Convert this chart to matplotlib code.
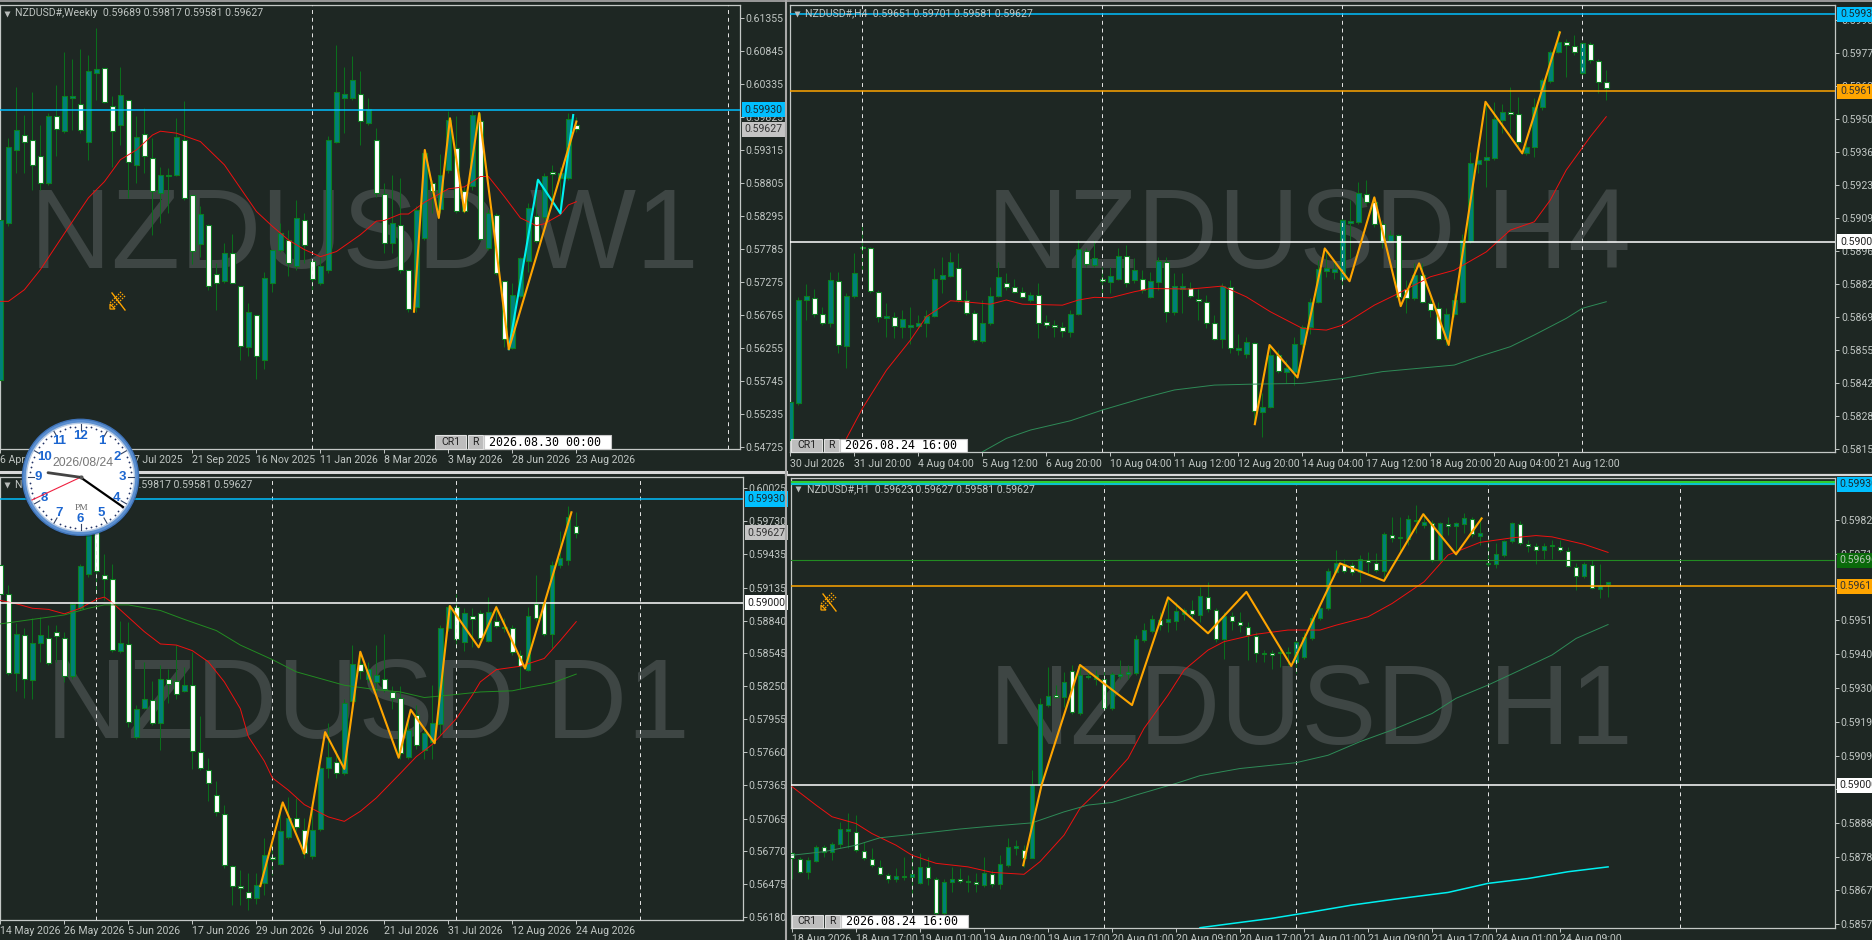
# NZDUSD four panel terminal screenshot, W1 / H4 / D1 / H1
import numpy as np
import matplotlib
matplotlib.use("Agg")
import matplotlib.pyplot as plt
from matplotlib.patches import Circle, Polygon, Rectangle

W, H = 1872, 940
BG = "#1e2723"
AXC = "#c4c8c6"
TXT = "#c0c6c3"
WICK = "#0a6e1c"
EDGE = "#0b8020"
UPC = "#00807a"
DNC = "#ffffff"
ORANGE = "#ffa500"
RED = "#f01010"
CYAN = "#00f0f0"
SKY = "#00bfff"
WMARK = "#3e4644"
FS = 7.6

plt.rcParams["font.family"] = ["Liberation Sans Narrow", "Roboto", "DejaVu Sans"]

# (open, high, low, close)
w1_ohlc = [
    (.5576,.5841,.5488,.5823),(.5818,.5949,.5813,.5936),(.5931,.6028,.5895,.5962),(.5954,.5985,.5895,.5944),
    (.5946,.6021,.5869,.5908),(.5921,.5970,.5869,.5880),(.5880,.5988,.5877,.5984),(.5984,.6032,.5921,.5963),
    (.5960,.6082,.5957,.6014),(.6012,.6071,.5962,.6015),(.6002,.6087,.5957,.5962),(.5944,.6078,.5916,.6053),
    (.6050,.6119,.6008,.6056),(.6057,.6058,.6003,.6005),(.5999,.6014,.5905,.5961),(.5969,.6059,.5939,.6016),
    (.6008,.6009,.5857,.5912),(.5907,.5983,.5880,.5951),(.5955,.5996,.5895,.5922),(.5919,.5949,.5800,.5868),
    (.5864,.5905,.5818,.5892),(.5891,.5903,.5833,.5892),(.5892,.5980,.5890,.5951),(.5947,.6007,.5854,.5856),
    (.5861,.5862,.5754,.5775),(.5785,.5844,.5766,.5832),(.5815,.5817,.5715,.5721),(.5740,.5756,.5684,.5726),
    (.5729,.5787,.5725,.5772),(.5771,.5801,.5725,.5726),(.5720,.5721,.5606,.5628),(.5627,.5694,.5613,.5680),
    (.5676,.5676,.5577,.5613),(.5606,.5743,.5592,.5733),(.5725,.5777,.5712,.5776),(.5777,.5818,.5774,.5802),
    (.5792,.5808,.5736,.5757),(.5751,.5853,.5746,.5826),(.5823,.5833,.5756,.5784),(.5760,.5761,.5711,.5731),
    (.5725,.5766,.5723,.5752),(.5746,.5952,.5741,.5946),(.5944,.6093,.5941,.6020),(.6011,.6060,.5957,.6017),
    (.6011,.6076,.6008,.6039),(.6017,.6053,.5938,.5975),(.5973,.6012,.5970,.5994),(.5947,.5965,.5859,.5865),
    (.5863,.5880,.5772,.5787),(.5787,.5893,.5772,.5818),(.5815,.5887,.5741,.5746),(.5746,.5746,.5681,.5685),
    (.5688,.5844,.5681,.5838),(.5795,.5931,.5792,.5926),(.5880,.5885,.5833,.5867),(.5839,.5925,.5833,.5892),
    (.5900,.5991,.5895,.5978),(.5934,.5983,.5833,.5837),(.5867,.5875,.5833,.5837),(.5875,.5993,.5869,.5985),
    (.5976,.5988,.5792,.5794),(.5779,.5839,.5777,.5833),(.5831,.5833,.5738,.5741),(.5729,.5729,.5627,.5639),
    (.5625,.5725,.5623,.5707),(.5705,.5766,.5702,.5764),(.5759,.5849,.5743,.5841),(.5829,.5885,.5787,.5790),
    (.5828,.5895,.5823,.5890),(.5897,.5908,.5854,.5894),(.5888,.5905,.5833,.5895),(.5887,.5988,.5885,.5979),
    (.59689,.59817,.59581,.59627),
]
d1_ohlc = [
    (.5934,.5941,.5907,.5908),(.5908,.5916,.5835,.5837),(.5837,.5882,.5821,.5872),(.5871,.5877,.5815,.5832),
    (.5831,.5886,.5814,.5864),(.5864,.5887,.5847,.5871),(.5868,.5880,.5844,.5846),(.5874,.5880,.5847,.5870),
    (.5868,.5874,.5829,.5834),(.5834,.5901,.5832,.5899),(.5895,.5935,.5893,.5933),(.5926,.5981,.5923,.5978),
    (.5964,.5981,.5908,.5928),(.5925,.5944,.5902,.5921),(.5921,.5935,.5856,.5858),(.5857,.5884,.5855,.5864),
    (.5863,.5883,.5789,.5793),(.5780,.5808,.5778,.5805),(.5806,.5847,.5805,.5814),(.5813,.5830,.5790,.5792),
    (.5792,.5844,.5768,.5832),(.5832,.5841,.5810,.5827),(.5830,.5862,.5814,.5818),(.5821,.5842,.5820,.5826),
    (.5826,.5856,.5751,.5767),(.5766,.5798,.5750,.5752),(.5750,.5761,.5722,.5738),(.5728,.5740,.5709,.5712),
    (.5711,.5719,.5662,.5665),(.5664,.5665,.5629,.5646),(.5646,.5660,.5629,.5644),(.5641,.5658,.5625,.5635),
    (.5635,.5658,.5630,.5647),(.5649,.5689,.5638,.5674),(.5672,.5684,.5656,.5670),(.5666,.5720,.5665,.5695),
    (.5690,.5726,.5688,.5707),(.5707,.5725,.5695,.5699),(.5696,.5707,.5671,.5676),(.5673,.5722,.5670,.5696),
    (.5697,.5754,.5695,.5752),(.5752,.5792,.5743,.5762),(.5757,.5768,.5743,.5747),(.5747,.5814,.5746,.5810),
    (.5812,.5862,.5811,.5845),(.5845,.5855,.5832,.5839),(.5832,.5847,.5829,.5841),(.5829,.5862,.5820,.5835),
    (.5832,.5872,.5820,.5823),(.5820,.5825,.5805,.5815),(.5815,.5825,.5760,.5765),(.5762,.5798,.5760,.5786),
    (.5799,.5808,.5769,.5772),(.5768,.5787,.5760,.5783),(.5775,.5826,.5760,.5792),(.5791,.5880,.5781,.5877),
    (.5877,.5898,.5875,.5896),(.5896,.5908,.5859,.5867),(.5865,.5895,.5857,.5891),(.5888,.5895,.5860,.5885),
    (.5891,.5893,.5862,.5868),(.5866,.5905,.5865,.5892),(.5884,.5898,.5877,.5879),(.5877,.5886,.5874,.5878),
    (.5877,.5880,.5853,.5856),(.5853,.5858,.5823,.5843),(.5840,.5896,.5839,.5888),(.5899,.5925,.5884,.5886),
    (.5900,.5901,.5870,.5872),(.5872,.5937,.5859,.5934),(.5934,.5964,.5931,.5940),(.5938,.5987,.5934,.5977),
    (.59689,.59817,.59581,.59627),
]
h4_ohlc = [
    (.58188,.58447,.58161,.58345),(.58338,.58774,.58331,.58763),(.58763,.58825,.58679,.58777),(.58770,.58808,.58693,.58703),
    (.58702,.58733,.58658,.58665),(.58665,.58877,.58652,.58842),(.58840,.58877,.58543,.58577),(.58574,.58788,.58481,.58777),
    (.58777,.58952,.58768,.58870),(.58972,.59074,.58883,.58979),(.58972,.58979,.58788,.58798),(.58795,.58802,.58672,.58693),
    (.58686,.58747,.58611,.58695),(.58693,.58713,.58604,.58654),(.58649,.58720,.58604,.58683),(.58649,.58733,.58583,.58658),
    (.58654,.58699,.58645,.58669),(.58668,.58720,.58611,.58695),(.58695,.58890,.58693,.58849),(.58845,.58938,.58788,.58863),
    (.58859,.58958,.58856,.58915),(.58890,.58952,.58754,.58761),(.58761,.58802,.58699,.58706),(.58706,.58720,.58590,.58597),
    (.58594,.58761,.58586,.58669),(.58668,.58815,.58658,.58777),(.58777,.58918,.58774,.58856),(.58832,.58870,.58802,.58815),
    (.58815,.58849,.58788,.58795),(.58793,.58815,.58768,.58774),(.58763,.58795,.58754,.58781),(.58781,.58829,.58604,.58668),
    (.58672,.58699,.58645,.58658),(.58658,.58679,.58611,.58652),(.58652,.58672,.58611,.58634),(.58631,.58720,.58611,.58702),
    (.58702,.59006,.58699,.58968),(.58963,.58972,.58897,.58908),(.58904,.59006,.58897,.58931),(.58845,.58897,.58774,.58838),
    (.58836,.58897,.58788,.58859),(.58849,.58972,.58842,.58942),(.58941,.58986,.58815,.58829),(.58842,.58931,.58829,.58883),
    (.58847,.58883,.58788,.58802),(.58774,.58877,.58768,.58840),(.58836,.58938,.58802,.58920),(.58918,.58938,.58672,.58713),
    (.58710,.58870,.58699,.58818),(.58808,.58870,.58706,.58818),(.58812,.58836,.58768,.58777),(.58765,.58808,.58679,.58757),
    (.58754,.58781,.58645,.58669),(.58668,.58699,.58597,.58600),(.58600,.58829,.58563,.58818),(.58815,.58842,.58543,.58563),
    (.58556,.58624,.58536,.58566),(.58540,.58611,.58522,.58588),(.58586,.58590,.58256,.58308),(.58304,.58379,.58202,.58324),
    (.58324,.58570,.58318,.58536),(.58536,.58556,.58461,.58472),(.58468,.58515,.58420,.58481),(.58468,.58611,.58413,.58583),
    (.58583,.58658,.58570,.58652),(.58649,.58768,.58624,.58754),(.58754,.58924,.58747,.58886),(.58881,.58965,.58856,.58890),
    (.58877,.58924,.58849,.58886),(.58849,.59095,.58815,.59088),(.59077,.59170,.58931,.59084),(.59081,.59245,.59074,.59197),
    (.59193,.59254,.59149,.59163),(.59163,.59183,.59061,.59072),(.59070,.59088,.58972,.59003),(.59003,.59047,.58999,.59027),
    (.59027,.59033,.58761,.58774),(.58808,.58842,.58706,.58770),(.58768,.58911,.58761,.58863),(.58863,.58911,.58747,.58751),
    (.58747,.58788,.58693,.58720),(.58727,.58754,.58597,.58600),(.58600,.58727,.58577,.58702),(.58702,.58788,.58693,.58761),
    (.58754,.59033,.58747,.59006),(.59003,.59368,.58993,.59320),(.59317,.59395,.59279,.59333),(.59333,.59565,.59224,.59347),
    (.59344,.59572,.59333,.59500),(.59497,.59565,.59443,.59531),(.59531,.59633,.59443,.59524),(.59522,.59593,.59388,.59408),
    (.59361,.59415,.59354,.59388),(.59388,.59586,.59347,.59549),(.59549,.59668,.59538,.59661),(.59658,.59783,.59647,.59777),
    (.59777,.59865,.59770,.59818),(.59818,.59827,.59674,.59804),(.59800,.59845,.59763,.59777),(.59688,.59818,.59674,.59811),
    (.59808,.59818,.59729,.59743),(.59740,.59749,.59606,.59654),(.59651,.59701,.59581,.59627),
]
h1_ohlc = [
    (.58790,.58795,.58712,.58774),(.58772,.58779,.58728,.58733),(.58733,.58779,.58712,.58769),(.58766,.58815,.58764,.58810),
    (.58808,.58815,.58779,.58795),(.58795,.58826,.58769,.58820),(.58818,.58887,.58805,.58864),(.58860,.58913,.58805,.58864),
    (.58857,.58908,.58795,.58800),(.58798,.58826,.58769,.58774),(.58772,.58805,.58748,.58753),(.58748,.58769,.58723,.58726),
    (.58723,.58728,.58697,.58710),(.58710,.58743,.58702,.58720),(.58717,.58779,.58707,.58720),(.58717,.58784,.58661,.58725),
    (.58699,.58790,.58694,.58748),(.58748,.58779,.58692,.58714),(.58712,.58717,.58599,.58604),(.58604,.58712,.58599,.58700),
    (.58700,.58748,.58671,.58712),(.58711,.58743,.58697,.58705),(.58705,.58723,.58671,.58702),(.58702,.58728,.58671,.58694),
    (.58692,.58779,.58686,.58728),(.58727,.58738,.58686,.58694),(.58694,.58784,.58681,.58757),(.58753,.58836,.58748,.58810),
    (.58805,.58831,.58784,.58812),(.58800,.58815,.58748,.58774),(.58776,.59047,.58774,.59001),(.59001,.59269,.58996,.59250),
    (.59248,.59367,.59243,.59277),(.59279,.59310,.59269,.59274),(.59274,.59351,.59243,.59318),(.59353,.59372,.59222,.59227),
    (.59225,.59372,.59217,.59341),(.59339,.59351,.59330,.59335),(.59330,.59356,.59310,.59341),(.59330,.59351,.59233,.59238),
    (.59238,.59351,.59233,.59343),(.59339,.59387,.59330,.59343),(.59344,.59372,.59330,.59349),(.59346,.59464,.59341,.59452),
    (.59449,.59501,.59444,.59480),(.59477,.59526,.59470,.59514),(.59511,.59537,.59480,.59497),(.59506,.59583,.59475,.59514),
    (.59509,.59568,.59480,.59539),(.59531,.59547,.59511,.59542),(.59542,.59573,.59516,.59529),(.59528,.59614,.59506,.59585),
    (.59583,.59629,.59537,.59545),(.59542,.59547,.59444,.59452),(.59452,.59537,.59392,.59524),(.59524,.59537,.59480,.59508),
    (.59504,.59537,.59475,.59495),(.59488,.59506,.59387,.59464),(.59461,.59475,.59382,.59408),(.59406,.59418,.59382,.59410),
    (.59410,.59418,.59359,.59404),(.59408,.59428,.59367,.59413),(.59413,.59428,.59372,.59408),(.59382,.59454,.59346,.59444),
    (.59397,.59475,.59392,.59457),(.59454,.59531,.59449,.59518),(.59516,.59552,.59511,.59547),(.59547,.59671,.59542,.59662),
    (.59660,.59727,.59655,.59686),(.59684,.59701,.59655,.59662),(.59681,.59691,.59650,.59658),(.59658,.59712,.59629,.59701),
    (.59697,.59722,.59655,.59691),(.59686,.59717,.59660,.59665),(.59662,.59784,.59634,.59777),(.59774,.59830,.59753,.59765),
    (.59763,.59830,.59717,.59767),(.59761,.59835,.59743,.59822),(.59817,.59868,.59779,.59820),(.59805,.59841,.59794,.59815),
    (.59810,.59820,.59691,.59696),(.59696,.59815,.59691,.59810),(.59808,.59830,.59774,.59801),(.59801,.59815,.59712,.59810),
    (.59807,.59841,.59779,.59825),(.59823,.59830,.59768,.59777),(.59772,.59830,.59743,.59779),(.59685,.59774,.59671,.59687),
    (.59684,.59748,.59671,.59714),(.59712,.59758,.59707,.59755),(.59755,.59815,.59748,.59810),(.59807,.59817,.59743,.59748),
    (.59746,.59758,.59722,.59740),(.59740,.59748,.59684,.59727),(.59727,.59748,.59701,.59740),(.59740,.59758,.59701,.59743),
    (.59738,.59758,.59720,.59727),(.59724,.59738,.59676,.59679),(.59676,.59686,.59604,.59648),(.59648,.59691,.59642,.59684),
    (.59681,.59696,.59607,.59611),(.59607,.59684,.59578,.59616),(.59623,.59627,.59581,.59627),
]

# moving averages and zigzags, bar index then price
w1_red_x = [0,1,3,5,8,11,13,15,17,19,20,22,25,28,32,34,36,38,40,42,45,47,48,50,51,53,56,58,60,61,63,65,67,68,70,71,72]
w1_red_y = [.5697,.5697,.5715,.5746,.5802,.5857,.5882,.5916,.5931,.5954,.5960,.5957,.5944,.5908,.5836,.5813,.5792,.5777,.5766,.5774,.5800,.5821,.5822,.5832,.5832,.5850,.5871,.5874,.5890,.5890,.5859,.5826,.5814,.5817,.5831,.5846,.5851]
w1_zig_x = [51.7,53.05,54.8,56.2,58,59.85,63.55,72]
w1_zig_y = [.5681,.5931,.5826,.5980,.5836,.5988,.5623,.5975]
w1_cyan_x = [63.55,67.2,70,71.6]
w1_cyan_y = [.5623,.5885,.5833,.5985]

d1_red_x = [0,2,4,6,8,10,12,13,14,16,18,20,22,24,26,28,30,31,33,34,36,38,41,43,45,47,50,52,54,57,59,60,62,65,68,70,72]
d1_red_y = [.5902,.5899,.5895,.5894,.5890,.5895,.5903,.5905,.5900,.5887,.5874,.5863,.5862,.5857,.5847,.5829,.5805,.5780,.5758,.5743,.5732,.5719,.5708,.5704,.5713,.5725,.5747,.5762,.5773,.5796,.5817,.5829,.5840,.5843,.5850,.5866,.5883]
d1_green_x = [0,2,4,6,8,11,13,16,20,23,27,30,34,37,40,43,47,50,53,56,60,64,66,69,72]
d1_green_y = [.5881,.5883,.5885,.5887,.5889,.5895,.5898,.5898,.5893,.5885,.5875,.5862,.5849,.5838,.5832,.5826,.5822,.5820,.5815,.5817,.5820,.5821,.5824,.5828,.5836]
d1_zig_x = [32.5,35.3,38,40.6,43,45,49.8,51.3,54.3,56.2,59.8,62,65.6,71.4]
d1_zig_y = [.5646,.5721,.5675,.5784,.5751,.5856,.5761,.5804,.5774,.5897,.5860,.5896,.5841,.5981]

h4_red_x = [7,9,12,15,17,20,22,25,27,29,34,36,38,40,43,45,50,54,57,60,64,67,69,73,76,80,83,87,90,93,95,97,100,102]
h4_red_y = [.58195,.58318,.58474,.58597,.58693,.58758,.58753,.58744,.58761,.58744,.58740,.58761,.58772,.58770,.58795,.58808,.58806,.58818,.58774,.58713,.58645,.58638,.58658,.58740,.58788,.58856,.58883,.58958,.59047,.59081,.59170,.59293,.59429,.59511]
h4_green_x = [24,27,30,35,39,44,48,53,58,64,69,74,77,83,86,90,93,97,99,102]
h4_green_y = [.58140,.58195,.58229,.58267,.58311,.58359,.58393,.58413,.58417,.58420,.58440,.58468,.58477,.58495,.58529,.58570,.58618,.58686,.58727,.58754]
h4_zig_x = [58.06,59.9,63.4,66.8,69.9,73,76.3,78.6,82.3,86.9,91.5,96.2]
h4_zig_y = [.58253,.58577,.58444,.58972,.58838,.59181,.58736,.58911,.58577,.59572,.59361,.59856]

h1_red_x = [0,3,5,8,10,13,15,18,22,25,29,31,34,36,39,42,44,47,49,52,54,58,62,66,68,72,75,79,82,86,90,93,95,99,102]
h1_red_y = [.58996,.58939,.58903,.58882,.58851,.58815,.58784,.58759,.58748,.58731,.58725,.58764,.58846,.58929,.59001,.59083,.59176,.59279,.59356,.59418,.59444,.59467,.59480,.59480,.59495,.59521,.59562,.59629,.59712,.59751,.59765,.59772,.59768,.59745,.59720]
h1_green_x = [0,4,8,11,16,21,25,30,34,37,40,43,48,51,56,63,67,71,75,80,83,87,91,95,98,102]
h1_green_y = [.58784,.58795,.58815,.58838,.58851,.58865,.58874,.58884,.58918,.58939,.58947,.58970,.59006,.59030,.59052,.59070,.59093,.59135,.59171,.59222,.59269,.59310,.59356,.59403,.59454,.59497]
h1_cyan_x = [51,55,60,65,70,75,82,87,92,97,102]
h1_cyan_y = [.58560,.58573,.58589,.58609,.58630,.58647,.58669,.58697,.58712,.58733,.58748]
h1_zig_x = [28.9,31.2,36,42.5,47,52,56.8,62.4,68.5,74,78.9,83,86.2]
h1_zig_y = [.58753,.59001,.59372,.59248,.59581,.59470,.59598,.59369,.59686,.59632,.59838,.59714,.59825]

# axis labels
w1_yticks = [.61355,.60845,.60335,.59825,.59315,.58805,.58295,.57785,.57275,.56765,.56255,.55745,.55235,.54725]
d1_yticks = [.60025,.59730,.59435,.59135,.58840,.58545,.58250,.57955,.57660,.57365,.57065,.56770,.56475,.56180]
h4_yticks = [.59905,.59770,.59635,.59500,.59365,.59230,.59095,.58960,.58825,.58690,.58555,.58420,.58285,.58150]
h1_yticks = [.59820,.59715,.59610,.59510,.59405,.59300,.59195,.59090,.58990,.58885,.58780,.58675,.58570]
w1_dates = ["6 Apr 2025","1 Jun 2025","27 Jul 2025","21 Sep 2025","16 Nov 2025","11 Jan 2026","8 Mar 2026","3 May 2026","28 Jun 2026","23 Aug 2026"]
d1_dates = ["14 May 2026","26 May 2026","5 Jun 2026","17 Jun 2026","29 Jun 2026","9 Jul 2026","21 Jul 2026","31 Jul 2026","12 Aug 2026","24 Aug 2026"]
h4_dates = ["30 Jul 2026","31 Jul 20:00","4 Aug 04:00","5 Aug 12:00","6 Aug 20:00","10 Aug 04:00","11 Aug 12:00","12 Aug 20:00","14 Aug 04:00","17 Aug 12:00","18 Aug 20:00","20 Aug 04:00","21 Aug 12:00"]
h1_dates = ["18 Aug 2026","18 Aug 17:00","19 Aug 01:00","19 Aug 09:00","19 Aug 17:00","20 Aug 01:00","20 Aug 09:00","20 Aug 17:00","21 Aug 01:00","21 Aug 09:00","21 Aug 17:00","24 Aug 01:00","24 Aug 09:00"]

fig = plt.figure(figsize=(W / 100, H / 100), dpi=100, facecolor=BG)


def panel(l, t, r, b, xlim, ylim, ohlc, yticks, dates, vlines):
    ax = fig.add_axes([l / W, 1 - b / H, (r - l) / W, (b - t) / H], facecolor=BG)
    ax.set_xlim(*xlim)
    ax.set_ylim(*ylim)
    o, hi, lo, c = np.array(ohlc).T
    x = np.arange(len(o))
    ax.vlines(x, lo, hi, color=WICK, lw=0.75, zorder=2)
    up = c >= o
    ax.bar(x[up], (c - o)[up], bottom=o[up], width=0.56, color=UPC, edgecolor=EDGE, lw=0.8, zorder=3)
    ax.bar(x[~up], (o - c)[~up], bottom=c[~up], width=0.56, color=DNC, edgecolor=EDGE, lw=0.8, zorder=3)
    ax.yaxis.tick_right()
    ax.set_yticks(yticks)
    ax.set_yticklabels(["%.5f" % v for v in yticks])
    ax.set_xticks(np.arange(len(dates)) * 8)
    ax.set_xticklabels(dates, ha="left")
    ax.tick_params(axis="both", colors=AXC, labelcolor=TXT, labelsize=FS, length=3, width=0.7, pad=1.5)
    for s in ax.spines.values():
        s.set_color(AXC)
        s.set_linewidth(0.9)
    for v in vlines:
        ax.axvline(v, color="#e8e8e8", lw=0.7, dashes=(4, 4), zorder=4)
    return ax


def wmark(ax, s, x, y):
    ax.text(x / W, 1 - y / H, s, transform=fig.transFigure, family="Liberation Sans",
            fontsize=81, color=WMARK, ha="left", va="baseline", zorder=1)


def hline(ax, price, color, lw=1.1):
    ax.axhline(price, color=color, lw=lw, zorder=5)


def pricebox(ax, price, s, fc, tc, width_ax):
    ax.text(1.0 + 5 / width_ax, price, s, transform=ax.get_yaxis_transform(), fontsize=FS, color=tc,
            ha="left", va="center", clip_on=False, zorder=12,
            bbox=dict(boxstyle="square,pad=0.25", fc=fc, ec="none"))


def header(x, y, s):
    ov.text(x, y, s, color=TXT, fontsize=FS, ha="left", va="center", zorder=2)


ax_w1 = panel(0, 5.3, 739.6, 449, (-0.05, 92.4), (.54688, .61546), w1_ohlc, w1_yticks, w1_dates, [39, 91])
ax_h4 = panel(790, 5, 1835, 452.3, (-0.06, 130.6), (.58138, .59968), h4_ohlc, h4_yticks, h4_dates, [9, 39, 69, 99])
ax_d1 = panel(0, 476.7, 742.6, 920, (-0.05, 92.8), (.56156, .60129), d1_ohlc, d1_yticks, d1_dates, [12, 34, 57, 80])
ax_h1 = panel(791, 478.3, 1834.5, 927.7, (-0.12, 130.3), (.58560, .59949), h1_ohlc, h1_yticks, h1_dates, [15, 39, 63, 87, 111])

wmark(ax_w1, "NZDUSD W1", 30, 268)
wmark(ax_h4, "NZDUSD H4", 987, 268)
wmark(ax_d1, "NZDUSD D1", 46, 738)
wmark(ax_h1, "NZDUSD H1", 989, 744)

ax_w1.plot(w1_red_x, w1_red_y, color=RED, lw=0.7, zorder=5)
ax_w1.plot(w1_cyan_x, w1_cyan_y, color=CYAN, lw=1.5, zorder=6)
ax_w1.plot(w1_zig_x, w1_zig_y, color=ORANGE, lw=1.5, zorder=6)
hline(ax_w1, .5993, SKY)

ax_d1.plot(d1_red_x, d1_red_y, color=RED, lw=0.7, zorder=5)
ax_d1.plot(d1_green_x, d1_green_y, color="#228b22", lw=0.7, zorder=5)
ax_d1.plot(d1_zig_x, d1_zig_y, color=ORANGE, lw=1.5, zorder=6)
hline(ax_d1, .5993, SKY)
hline(ax_d1, .59, "#ffffff")

ax_h4.plot(h4_red_x, h4_red_y, color=RED, lw=0.7, zorder=5)
ax_h4.plot(h4_green_x, h4_green_y, color="#2e8b57", lw=0.7, zorder=5)
ax_h4.plot(h4_zig_x, h4_zig_y, color=ORANGE, lw=1.5, zorder=6)
hline(ax_h4, .5993, SKY)
hline(ax_h4, .59615, ORANGE)
hline(ax_h4, .59, "#ffffff")

ax_h1.plot(h1_red_x, h1_red_y, color=RED, lw=0.7, zorder=5)
ax_h1.plot(h1_green_x, h1_green_y, color="#2e8b57", lw=0.7, zorder=5)
ax_h1.plot(h1_cyan_x, h1_cyan_y, color=CYAN, lw=1.1, zorder=5)
ax_h1.plot(h1_zig_x, h1_zig_y, color=ORANGE, lw=1.5, zorder=6)
hline(ax_h1, .59936, "#32cd32", lw=3)
hline(ax_h1, .5993, SKY)
hline(ax_h1, .59695, "#228b22", lw=0.8)
hline(ax_h1, .59615, ORANGE)
hline(ax_h1, .59, "#ffffff")

pricebox(ax_w1, .5993, "0.59930", SKY, "#1a2a30", 739.6)
pricebox(ax_w1, .59627, "0.59627", "#c4c4c4", "#333333", 739.6)
pricebox(ax_d1, .5993, "0.59930", SKY, "#1a2a30", 742.6)
pricebox(ax_d1, .59627, "0.59627", "#c4c4c4", "#333333", 742.6)
pricebox(ax_d1, .59, "0.59000", "#ffffff", "#222222", 742.6)
pricebox(ax_h4, .5993, "0.59930", SKY, "#1a2a30", 1045)
pricebox(ax_h4, .59615, "0.59615", ORANGE, "#333333", 1045)
pricebox(ax_h4, .59, "0.59000", "#ffffff", "#222222", 1045)
pricebox(ax_h1, .5993, "0.59930", SKY, "#1a2a30", 1043.5)
pricebox(ax_h1, .59695, "0.59696", "#0a6a0a", "#b8c8b8", 1043.5)
pricebox(ax_h1, .59615, "0.59615", ORANGE, "#333333", 1043.5)
pricebox(ax_h1, .59, "0.59000", "#ffffff", "#222222", 1043.5)

# overlay in screen pixels for the terminal furniture
ov = fig.add_axes([0, 0, 1, 1], zorder=20)
ov.set_xlim(0, W)
ov.set_ylim(H, 0)
ov.axis("off")

ov.plot([0, W], [1, 1], color="#9a9a9a", lw=1.4)
ov.plot([0, 786], [471.5, 471.5], color="#d8d8d8", lw=2.2)
ov.plot([786, W], [474.5, 474.5], color="#d8d8d8", lw=1.6)
ov.plot([786, 786], [0, H], color="#a8a8a8", lw=1.5)

header(15, 13.5, "NZDUSD#,Weekly  0.59689 0.59817 0.59581 0.59627")
header(15, 485, "NZDUSD#,Daily  0.59689 0.59817 0.59581 0.59627")
header(805, 13.5, "NZDUSD#,H4  0.59651 0.59701 0.59581 0.59627")
header(807, 489, "NZDUSD#,H1  0.59623 0.59627 0.59581 0.59627")
ov.plot([6.5, 6.5, 797, 798], [13.7, 485, 13.7, 489], ls="none", marker="v", ms=4.5, color="#b8bcba", mec="none")


def buttons(x, y0, y1, stamp):
    ov.add_patch(Rectangle((x, y0), 31, y1 - y0, fc="#bdbdbd", ec="#e0e0e0", lw=0.8))
    ov.text(x + 15.5, (y0 + y1) / 2, "CR1", fontsize=FS, color="#222222", ha="center", va="center")
    ov.add_patch(Rectangle((x + 33, y0), 15, y1 - y0, fc="#bdbdbd", ec="#e0e0e0", lw=0.8))
    ov.text(x + 40.5, (y0 + y1) / 2, "R", fontsize=FS, color="#222222", ha="center", va="center")
    ov.add_patch(Rectangle((x + 49, y0), 127, y1 - y0, fc="#ffffff", ec="#c8c8c8", lw=0.8))
    ov.text(x + 54, (y0 + y1) / 2, stamp, family="DejaVu Sans Mono", fontsize=8.4, color="#000000", ha="left", va="center")


buttons(435, 435, 449, "2026.08.30 00:00")
buttons(791, 438.5, 452, "2026.08.24 16:00")
buttons(791.5, 914.5, 928, "2026.08.24 16:00")


def pencil(cx, cy):
    # hatched band going down-left, thin stroke crossing it
    ov.plot([cx - 5, cx + 8], [cy - 9, cy + 8], color=ORANGE, lw=1.0)
    for off in (-2, 0, 2):
        ov.plot([cx + 6 + off, cx - 5 + off], [cy - 8 + off, cy + 3 + off], color=ORANGE, lw=1.0, dashes=(1, 1))
    ov.add_patch(Polygon([[cx - 7, cy + 2], [cx - 2, cy + 7], [cx - 7, cy + 7]], fc="none", ec=ORANGE, lw=0.9))


pencil(117, 302)
pencil(828, 603)

# clock over the left column
cx, cy = 80.5, 477.3
ov.add_patch(Circle((cx, cy + 1), 59, fc="#10202a", ec="none", alpha=0.35, zorder=10))
ov.add_patch(Circle((cx, cy), 58, fc="#5b8fd0", ec="#3f73b8", lw=1.0, zorder=10))
ov.add_patch(Circle((cx, cy), 54, fc="#ffffff", ec="#b8cbe4", lw=1.0, zorder=10))
for m in range(60):
    a = np.radians(m * 6)
    sa, ca = np.sin(a), np.cos(a)
    if m % 5 == 0:
        ov.plot([cx + 47 * sa, cx + 53 * sa], [cy - 47 * ca, cy - 53 * ca], color="#334466", lw=0.8, zorder=11)
    else:
        ov.plot(cx + 51 * sa, cy - 51 * ca, ls="none", marker="o", ms=1.3, color="#223366", mec="none", zorder=11)
for n in range(1, 13):
    a = np.radians(n * 30)
    ov.text(cx + 42 * np.sin(a), cy - 41.5 * np.cos(a), str(n), fontsize=9.5, fontweight="bold",
            family="Liberation Sans", color="#1c66d0", ha="center", va="center", zorder=12)
ov.text(cx + 2, 463, "2026/08/24", family="Liberation Sans", fontsize=8.8, color="#777777", ha="center", va="center", zorder=12)
ov.text(cx + 1, 508.5, "PM", family="Liberation Serif", fontsize=6.8, color="#666666", ha="center", va="center", zorder=12)
ov.plot([cx, 32], [cy, 500], color="#f02040", lw=0.8, zorder=13)
ov.plot([cx, 48], [cy, 472.7], color="#444444", lw=2.0, solid_capstyle="round", zorder=13)
ov.plot([cx, 123], [cy, 507], color="#000000", lw=1.6, zorder=13)
ov.plot(cx, cy, marker="o", ms=3, color="#555555", mec="none", zorder=14)

fig.savefig("out.png", dpi=100, facecolor=BG)
